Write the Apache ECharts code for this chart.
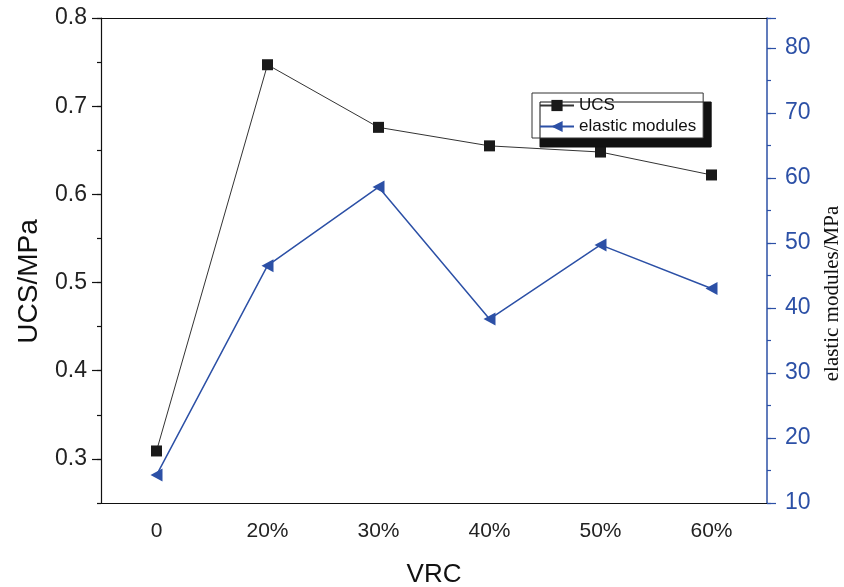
<!DOCTYPE html>
<html>
<head>
<meta charset="utf-8">
<script src="https://cdn.jsdelivr.net/npm/echarts@6/dist/echarts.min.js"></script>
<style>
html,body{margin:0;padding:0;background:#fff;}
#chart{width:844px;height:587px;}
</style>
</head>
<body>
<div id="chart"></div>
<script>
const categories = ['0', '20%', '30%', '40%', '50%', '60%'];
const ucsValues = [0.309, 0.747, 0.676, 0.655, 0.648, 0.622];
const elasticValues = [14.3, 46.5, 58.6, 38.3, 49.7, 43.0];
const seriesNames = ['UCS', 'elastic modules'];
// left axis tick positions (every 0.05); labels shown on every 0.1
const ucsTickLabels = ['0.25', '0.3', '0.35', '0.4', '0.45', '0.5', '0.55', '0.6', '0.65', '0.7', '0.75', '0.8'];

const BLUE = '#2c50a6';
const FONT = '"Liberation Sans", Arial, sans-serif';
const isMajor = (i) => i % 2 === 1;

const chart = echarts.init(document.getElementById('chart'));
chart.setOption({
  animation: false,
  backgroundColor: '#fff',
  grid: { left: 101, right: 77, top: 18, bottom: 84, containLabel: false, outerBoundsMode: 'none' },
  legend: {
    orient: 'vertical',
    left: 532, top: 93,
    padding: [4, 7, 3, 7],
    itemGap: 4,
    itemWidth: 34, itemHeight: 14,
    backgroundColor: '#fff',
    borderColor: '#333', borderWidth: 1,
    shadowColor: '#111', shadowBlur: 0, shadowOffsetX: 8, shadowOffsetY: 9,
    textStyle: { fontFamily: FONT, fontSize: 17, color: '#111' },
    data: seriesNames
  },
  xAxis: [
    {
      type: 'category', data: categories, boundaryGap: true, position: 'bottom',
      axisLine: { lineStyle: { color: '#111', width: 1.2 } },
      axisTick: { alignWithLabel: true, inside: false, length: 9, lineStyle: { color: '#111', width: 1.2 } },
      axisLabel: { fontFamily: FONT, fontSize: 21, color: '#222', margin: 18 },
      name: 'VRC', nameLocation: 'middle', nameGap: 59,
      nameTextStyle: { fontFamily: FONT, fontSize: 26, color: '#111' },
      splitLine: { show: false }
    },
    {
      type: 'category', data: categories, boundaryGap: true, position: 'bottom',
      axisLine: { show: false },
      axisTick: { alignWithLabel: false, length: 4, lineStyle: { color: '#111', width: 1.2 } },
      axisLabel: { show: false }, splitLine: { show: false }
    },
    {
      type: 'category', data: categories, boundaryGap: true, position: 'top',
      axisLine: { lineStyle: { color: '#111', width: 1.2 } },
      axisTick: { alignWithLabel: true, inside: true, length: 6, lineStyle: { color: '#111', width: 1.2 } },
      axisLabel: { show: false }, splitLine: { show: false }
    }
  ],
  yAxis: [
    {
      type: 'value', position: 'left', min: 0.25, max: 0.8, interval: 0.05,
      axisLine: { show: true, lineStyle: { color: '#111', width: 1.2 } },
      axisTick: { show: true, length: 4, lineStyle: { color: '#111', width: 1.2 } },
      axisLabel: { show: false },
      splitLine: { show: false }
    },
    {
      type: 'value', position: 'right', min: 10, max: 84.6, interval: 10,
      axisLine: { show: true, lineStyle: { color: BLUE, width: 1.5 } },
      axisTick: { show: true, length: 9, lineStyle: { color: BLUE, width: 1.2 } },
      axisLabel: {
        fontFamily: FONT, fontSize: 23, color: BLUE, margin: 18,
        formatter: v => (Math.abs(v - Math.round(v / 10) * 10) > 0.01 ? '' : String(Math.round(v)))
      },
      splitLine: { show: false },
      name: 'elastic modules/MPa', nameLocation: 'middle', nameGap: 55, nameRotate: 90,
      nameTextStyle: { fontFamily: '"Liberation Serif", "Times New Roman", serif', fontSize: 21, color: '#111', padding: [0, 66, 0, 0] }
    },
    {
      type: 'category', position: 'left', data: ucsTickLabels, boundaryGap: false,
      axisLine: { show: false },
      axisTick: { show: true, length: 9, interval: isMajor, lineStyle: { color: '#111', width: 1.2 } },
      axisLabel: { fontFamily: FONT, fontSize: 23, color: '#222', margin: 14, interval: isMajor },
      splitLine: { show: false },
      name: 'UCS/MPa', nameLocation: 'middle', nameGap: 58, nameRotate: 90,
      nameTextStyle: { fontFamily: FONT, fontSize: 28, color: '#111', padding: [0, 42, 0, 0] }
    },
    {
      type: 'value', position: 'right', min: 10, max: 84.6, interval: 5,
      axisLine: { show: false },
      axisTick: { show: true, length: 4, lineStyle: { color: BLUE, width: 1.2 } },
      axisLabel: { show: false }, splitLine: { show: false }
    }
  ],
  series: [
    {
      name: seriesNames[0], type: 'line', xAxisIndex: 0, yAxisIndex: 0,
      data: ucsValues,
      symbol: 'rect', symbolSize: 11,
      itemStyle: { color: '#1a1a1a' },
      lineStyle: { color: '#333', width: 1 }
    },
    {
      name: seriesNames[1], type: 'line', xAxisIndex: 0, yAxisIndex: 1,
      data: elasticValues,
      symbol: 'triangle', symbolSize: [13, 12], symbolRotate: 90,
      itemStyle: { color: BLUE },
      lineStyle: { color: BLUE, width: 1.5 }
    }
  ]
});
</script>
</body>
</html>
